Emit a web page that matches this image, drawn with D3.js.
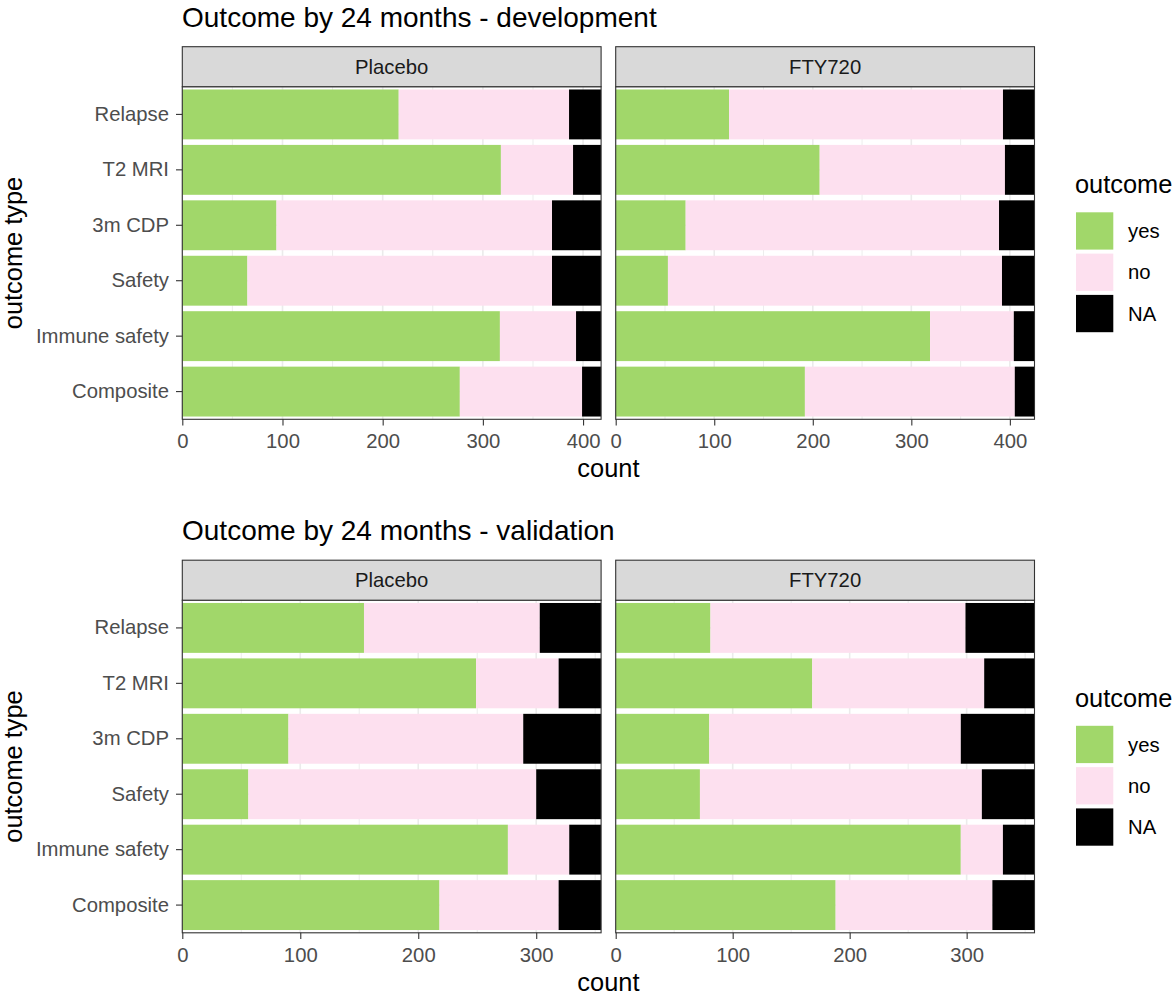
<!DOCTYPE html>
<html>
<head>
<meta charset="utf-8">
<script src="https://cdn.jsdelivr.net/npm/d3@7"></script>
<style>
  body { margin: 0; background: #ffffff; }
  svg { display: block; }
  text { font-family: "Liberation Sans", Arial, Helvetica, sans-serif; }
</style>
</head>
<body>
<svg id="chart" width="1176" height="994"></svg>
<script>
// ---- data ----
const outcomeTypes = ["Relapse", "T2 MRI", "3m CDP", "Safety", "Immune safety", "Composite"];
const arms = ["Placebo", "FTY720"];
const outcomeLevels = ["yes", "no", "NA"];
const outcomeColors = ["#A1D76A", "#FDE0EF", "#000000"];

// development cohort, counts per outcome type
const devPlaceboYes = [216, 318, 94, 65, 317, 277];
const devPlaceboNo  = [170, 72, 275, 304, 76, 122];
const devPlaceboNA  = [32, 28, 49, 49, 25, 19];
const devFtyYes = [115, 207, 71, 53, 319, 192];
const devFtyNo  = [278, 188, 318, 339, 85, 213];
const devFtyNA  = [32, 30, 36, 33, 21, 20];

// validation cohort, counts per outcome type
const valPlaceboYes = [154, 249, 90, 56, 276, 218];
const valPlaceboNo  = [149, 70, 199, 244, 52, 101];
const valPlaceboNA  = [52, 36, 66, 55, 27, 36];
const valFtyYes = [81, 168, 80, 72, 295, 188];
const valFtyNo  = [218, 147, 215, 241, 36, 134];
const valFtyNA  = [59, 43, 63, 45, 27, 36];

const blocks = [
  { title: "Outcome by 24 months - development",
    panels: [[devPlaceboYes, devPlaceboNo, devPlaceboNA], [devFtyYes, devFtyNo, devFtyNA]] },
  { title: "Outcome by 24 months - validation",
    panels: [[valPlaceboYes, valPlaceboNo, valPlaceboNA], [valFtyYes, valFtyNo, valFtyNA]] }
];

// ---- layout ----
const svg = d3.select("#chart");
const blockOffset = 513.5;
const panelLeft = [182.3, 615.7];
const panelWidth = 418.8;
const stripTop = 46.7, stripBottom = 86.7;
const panelTop = 86.7, panelBottom = 419.3;
const tickLen = 6.3;
const smallFont = 20.3, midFont = 25.4, titleFont = 28;

blocks.forEach((block, bi) => {
  const g = svg.append("g").attr("transform", `translate(0,${bi * blockOffset})`);

  g.append("text")
    .attr("x", 182).attr("y", 26.7)
    .attr("font-size", titleFont).attr("fill", "#000")
    .text(block.title);

  const y = d3.scaleBand()
    .domain(outcomeTypes)
    .range([panelTop, panelBottom])
    .paddingInner(0.1)
    .paddingOuter(0.05);

  block.panels.forEach((series, pi) => {
    const x0 = panelLeft[pi];
    const rows = outcomeTypes.map((t, i) => {
      const vals = series.map(s => s[i]);
      let acc = 0;
      const segs = vals.map((v, k) => {
        const s = { level: outcomeLevels[k], color: outcomeColors[k], from: acc, to: acc + v };
        acc += v;
        return s;
      });
      return { type: t, segs, total: acc };
    });
    const xMax = d3.max(rows, r => r.total);
    const x = d3.scaleLinear().domain([0, xMax]).range([x0, x0 + panelWidth]);

    const pg = g.append("g");

    // panel background
    pg.append("rect")
      .attr("x", x0).attr("y", panelTop)
      .attr("width", panelWidth).attr("height", panelBottom - panelTop)
      .attr("fill", "#ffffff");

    // grid lines
    const minor = d3.range(50, xMax, 100);
    const major = d3.range(0, xMax + 1e-9, 100);
    pg.selectAll(".gminor").data(minor).join("line")
      .attr("x1", d => x(d)).attr("x2", d => x(d))
      .attr("y1", panelTop).attr("y2", panelBottom)
      .attr("stroke", "#EBEBEB").attr("stroke-width", 0.9);
    pg.selectAll(".gmajor").data(major).join("line")
      .attr("x1", d => x(d)).attr("x2", d => x(d))
      .attr("y1", panelTop).attr("y2", panelBottom)
      .attr("stroke", "#EBEBEB").attr("stroke-width", 1.6);
    pg.selectAll(".gmajory").data(outcomeTypes).join("line")
      .attr("x1", x0).attr("x2", x0 + panelWidth)
      .attr("y1", d => y(d) + y.bandwidth() / 2).attr("y2", d => y(d) + y.bandwidth() / 2)
      .attr("stroke", "#EBEBEB").attr("stroke-width", 1.6);

    // stacked bars
    rows.forEach(r => {
      pg.selectAll(null).data(r.segs).join("rect")
        .attr("x", d => x(d.from))
        .attr("width", d => x(d.to) - x(d.from))
        .attr("y", y(r.type))
        .attr("height", y.bandwidth())
        .attr("fill", d => d.color);
    });

    // panel border
    pg.append("rect")
      .attr("x", x0).attr("y", panelTop)
      .attr("width", panelWidth).attr("height", panelBottom - panelTop)
      .attr("fill", "none").attr("stroke", "#333333").attr("stroke-width", 1.1);

    // strip
    pg.append("rect")
      .attr("x", x0).attr("y", stripTop)
      .attr("width", panelWidth).attr("height", stripBottom - stripTop)
      .attr("fill", "#D9D9D9").attr("stroke", "#333333").attr("stroke-width", 1.1);
    pg.append("text")
      .attr("x", x0 + panelWidth / 2).attr("y", (stripTop + stripBottom) / 2)
      .attr("dy", "0.35em").attr("text-anchor", "middle")
      .attr("font-size", smallFont).attr("fill", "#1A1A1A")
      .text(arms[pi]);

    // x axis
    const xAxis = pg.append("g")
      .attr("transform", `translate(0,${panelBottom})`)
      .call(d3.axisBottom(x).tickValues(major).tickSize(tickLen).tickPadding(8).tickFormat(d3.format("d")));
    xAxis.select(".domain").remove();
    xAxis.selectAll(".tick line").attr("stroke", "#333333").attr("stroke-width", 1.1);
    xAxis.selectAll(".tick text")
      .attr("font-size", smallFont).attr("fill", "#4D4D4D")
      .attr("font-family", "Liberation Sans, Arial, sans-serif");

    // y axis on the first panel only
    if (pi === 0) {
      const yAxis = pg.append("g")
        .attr("transform", `translate(${x0},0)`)
        .call(d3.axisLeft(y).tickSize(tickLen).tickPadding(7));
      yAxis.select(".domain").remove();
      yAxis.selectAll(".tick line").attr("stroke", "#333333").attr("stroke-width", 1.1);
      yAxis.selectAll(".tick text")
        .attr("font-size", smallFont).attr("fill", "#4D4D4D")
        .attr("font-family", "Liberation Sans, Arial, sans-serif");
    }
  });

  // axis titles
  g.append("text")
    .attr("x", (panelLeft[0] + panelLeft[1] + panelWidth) / 2).attr("y", 477)
    .attr("text-anchor", "middle").attr("font-size", midFont).attr("fill", "#000")
    .text("count");
  g.append("text")
    .attr("transform", `translate(22,${(panelTop + panelBottom) / 2}) rotate(-90)`)
    .attr("text-anchor", "middle").attr("font-size", midFont).attr("fill", "#000")
    .text("outcome type");

  // legend
  const lg = g.append("g");
  lg.append("text")
    .attr("x", 1075).attr("y", 193.3)
    .attr("font-size", midFont).attr("fill", "#000")
    .text("outcome");
  const keyStep = 41.3, keyTop = 212.3, keySize = 37.3;
  lg.selectAll(".key").data(outcomeLevels).join("rect")
    .attr("x", 1076).attr("y", (d, i) => keyTop + i * keyStep)
    .attr("width", keySize).attr("height", keySize)
    .attr("fill", (d, i) => outcomeColors[i]);
  lg.selectAll(".klab").data(outcomeLevels).join("text")
    .attr("x", 1128).attr("y", (d, i) => keyTop + i * keyStep + keySize / 2)
    .attr("dy", "0.35em").attr("font-size", smallFont).attr("fill", "#000")
    .text(d => d);
});
</script>
</body>
</html>
